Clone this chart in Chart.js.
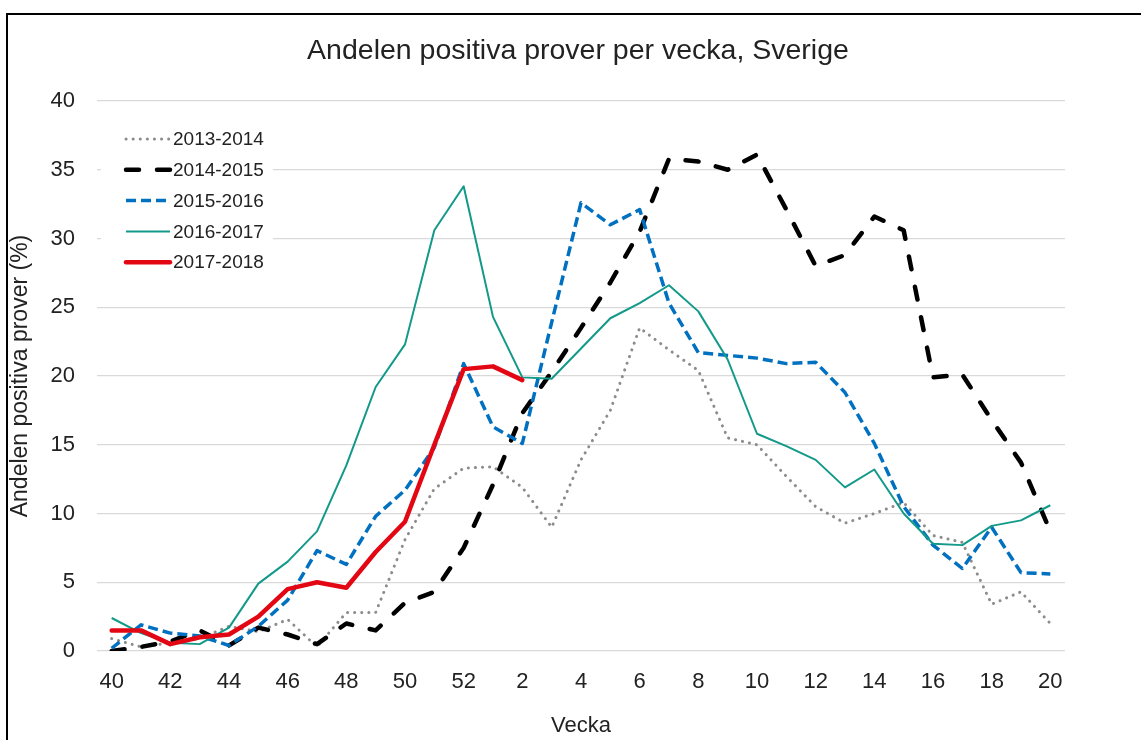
<!DOCTYPE html>
<html>
<head>
<meta charset="utf-8">
<title>Andelen positiva prover per vecka, Sverige</title>
<script src="https://cdn.jsdelivr.net/npm/chart.js"></script>
<style>
    html, body { margin: 0; padding: 0; background: #fff; }
    #wrap { position: relative; width: 1141px; height: 740px; }
</style>
</head>
<body>
<div id="wrap"><canvas id="fluChart"></canvas></div>

<script>
    // veckor 40-52 och 1-20
    const weeks = ['40','41','42','43','44','45','46','47','48','49','50','51','52',
                   '1','2','3','4','5','6','7','8','9','10','11','12','13','14','15','16','17','18','19','20'];

    const s2013 = [0.9, 0.3, 0.6, 0.9, 1.8, 1.4, 2.3, 0.3, 2.8, 2.8, 8.1, 11.8, 13.3,
                   13.4, 11.9, 9.0, 13.9, 17.5, 23.5, 21.9, 20.4, 15.5, 15.0, 12.7, 10.5, 9.3, 10.0, 10.8, 8.4, 7.9, 3.4, 4.3, 2.0];
    const s2014 = [0.0, 0.3, 0.7, 1.5, 0.4, 1.7, 1.2, 0.5, 2.0, 1.5, 3.5, 4.3, 7.5,
                   12.1, 17.3, 20.3, 23.5, 26.8, 30.5, 35.8, 35.6, 35.0, 36.1, 32.1, 28.0, 28.8, 31.6, 30.6, 19.9, 20.1, 16.8, 13.7, 8.7];
    const s2015 = [0.2, 1.9, 1.3, 1.1, 0.4, 1.8, 3.7, 7.3, 6.3, 9.8, 11.7, 14.8, 20.9,
                   16.3, 15.1, 23.9, 32.6, 31.0, 32.1, 25.3, 21.7, 21.5, 21.3, 20.9, 21.0, 18.8, 15.1, 10.5, 7.7, 6.0, 9.0, 5.7, 5.6];
    const s2016 = [2.4, 1.3, 0.6, 0.5, 1.7, 4.9, 6.5, 8.7, 13.5, 19.2, 22.3, 30.6, 33.8,
                   24.3, 19.9, 19.8, 22.0, 24.2, 25.3, 26.6, 24.7, 21.2, 15.8, 14.9, 13.9, 11.9, 13.2, 10.0, 7.8, 7.7, 9.1, 9.5, 10.6];
    const s2017 = [1.5, 1.5, 0.5, 1.0, 1.2, 2.5, 4.5, 5.0, 4.6, 7.2, 9.4, 15.0, 20.5,
                   20.7, 19.7];

    const yTicks = [0, 5, 10, 15, 20, 25, 30, 35, 40];

    const chartTitle = 'Andelen positiva prover per vecka, Sverige';
    const FONT = "'Liberation Sans', Arial, sans-serif";
    const TEXT = '#222222';

    // ram runt bilden + rubrik centrerad över diagramytan
    const framePlugin = {
        id: 'frame',
        beforeDraw(chart) {
            const ctx = chart.ctx;
            ctx.save();
            ctx.fillStyle = '#fff';
            ctx.fillRect(0, 0, chart.width, chart.height);
            ctx.strokeStyle = '#000';
            ctx.lineWidth = 2;
            ctx.beginPath();
            ctx.moveTo(7, chart.height + 2);
            ctx.lineTo(7, 14);
            ctx.lineTo(chart.width + 2, 14);
            ctx.stroke();
            ctx.restore();
        },
        afterDraw(chart) {
            const ctx = chart.ctx;
            const area = chart.chartArea;
            ctx.save();
            ctx.fillStyle = TEXT;
            ctx.font = '28.5px ' + FONT;
            ctx.textAlign = 'center';
            ctx.textBaseline = 'middle';
            ctx.fillText(chartTitle, (area.left + area.right) / 2 - 3, 51);
            ctx.restore();
        }
    };

    // legend inne i diagramytan, uppe till vänster
    const insideLegend = {
        id: 'insideLegend',
        afterDraw(chart) {
            const ctx = chart.ctx;
            const area = chart.chartArea;
            const x0 = area.left + 29, x1 = area.left + 73;
            ctx.save();
            ctx.fillStyle = '#fff';
            ctx.fillRect(area.left + 4, area.top + 17, 172, 162);
            chart.data.datasets.forEach((ds, i) => {
                const y = area.top + 38 + i * 30.8;
                ctx.strokeStyle = ds.borderColor;
                ctx.lineWidth = ds.borderWidth;
                ctx.lineCap = ds.borderCapStyle || 'butt';
                ctx.setLineDash(ds.borderDash || []);
                ctx.beginPath();
                ctx.moveTo(x0, y);
                ctx.lineTo(x1, y);
                ctx.stroke();
                ctx.setLineDash([]);
                ctx.fillStyle = TEXT;
                ctx.font = '19px ' + FONT;
                ctx.textBaseline = 'middle';
                ctx.textAlign = 'left';
                ctx.fillText(ds.label, x1 + 3, y + 1);
            });
            ctx.restore();
        }
    };

    const ctx = document.getElementById('fluChart').getContext('2d');
    const fluChart = new Chart(ctx, {
        type: 'line',
        data: {
            labels: weeks,
            datasets: [{
                label: '2013-2014',
                data: s2013,
                borderColor: '#8c8c8c',
                borderWidth: 3,
                borderDash: [0.1, 7],
                borderCapStyle: 'round',
                order: 4
            }, {
                label: '2014-2015',
                data: s2014,
                borderColor: '#000000',
                borderWidth: 4.5,
                borderDash: [13, 18],
                borderCapStyle: 'round',
                order: 3
            }, {
                label: '2015-2016',
                data: s2015,
                borderColor: '#0070c0',
                borderWidth: 3.5,
                borderDash: [10, 5],
                borderCapStyle: 'butt',
                order: 2
            }, {
                label: '2016-2017',
                data: s2016,
                borderColor: '#12998a',
                borderWidth: 2,
                order: 1
            }, {
                label: '2017-2018',
                data: s2017,
                borderColor: '#e30613',
                borderWidth: 4.5,
                borderCapStyle: 'round',
                order: 0
            }]
        },
        options: {
            responsive: true,
            maintainAspectRatio: false,
            animation: false,
            layout: { padding: { left: 7, right: 76, top: 101, bottom: 0 } },
            elements: {
                point: { radius: 0, hoverRadius: 0 },
                line: { tension: 0, fill: false, borderJoinStyle: 'round' }
            },
            plugins: {
                legend: { display: false },
                tooltip: { enabled: false },
                title: { display: false }
            },
            scales: {
                x: {
                    offset: true,
                    grid: { display: false },
                    border: { display: false },
                    ticks: {
                        autoSkip: false,
                        maxRotation: 0,
                        padding: 10,
                        color: TEXT,
                        font: { family: FONT, size: 22 },
                        callback: (v, i) => (i % 2 === 0 ? weeks[i] : '')
                    },
                    title: {
                        display: true,
                        text: 'Vecka',
                        color: TEXT,
                        font: { family: FONT, size: 22 },
                        padding: { top: 0, bottom: 1 }
                    },
                    afterFit(scale) { scale.height = 89; }
                },
                y: {
                    min: 0,
                    max: 40,
                    afterBuildTicks(scale) { scale.ticks = yTicks.map(v => ({ value: v })); },
                    grid: { color: '#d9d9d9', lineWidth: 1.3, drawTicks: false },
                    border: { display: false },
                    ticks: {
                        padding: 22,
                        color: TEXT,
                        font: { family: FONT, size: 22 }
                    },
                    title: {
                        display: true,
                        text: 'Andelen positiva prover (%)',
                        color: TEXT,
                        font: { family: FONT, size: 23 },
                        padding: { top: 0, bottom: 0 }
                    },
                    afterFit(scale) { scale.width = 90; }
                }
            }
        },
        plugins: [framePlugin, insideLegend]
    });
</script>
</body>
</html>
